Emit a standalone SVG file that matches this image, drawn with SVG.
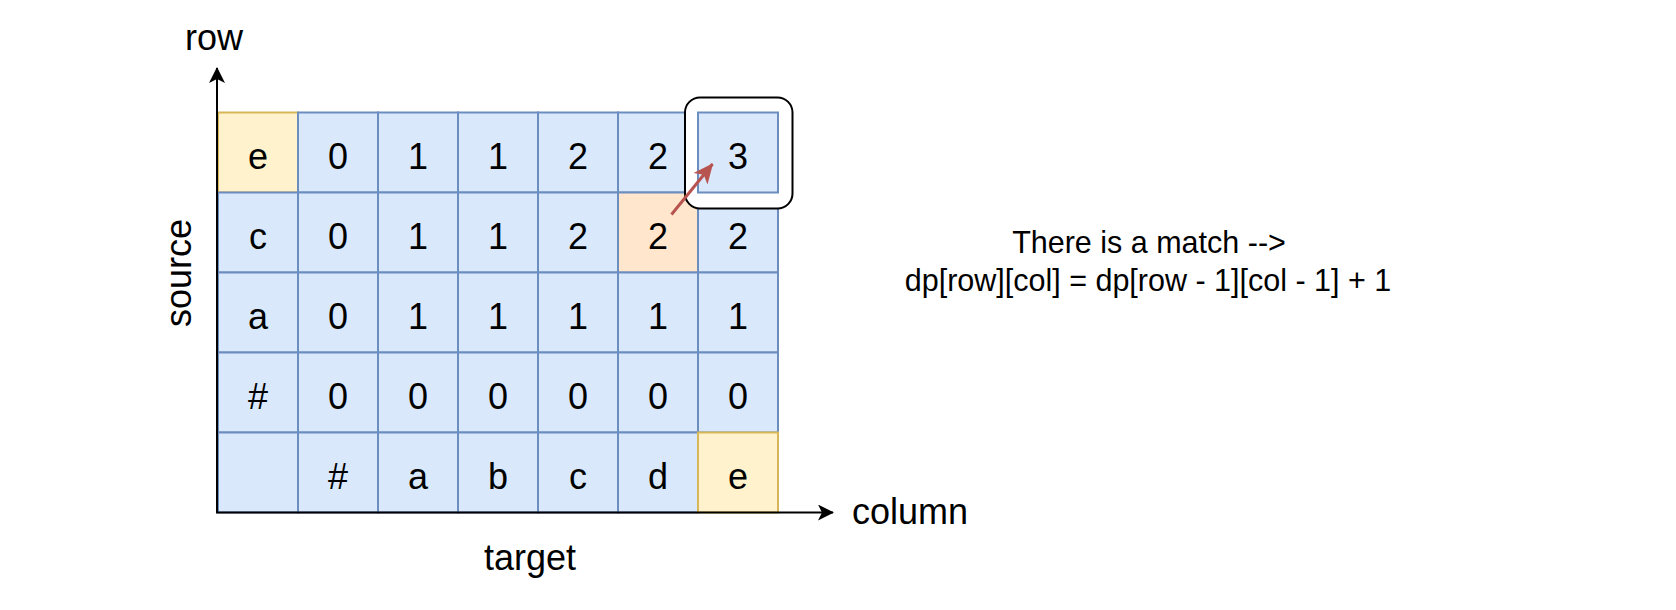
<svg xmlns="http://www.w3.org/2000/svg" width="1676" height="610" viewBox="0 0 1676 610">
  <style>
    .cell { fill: #dae8fc; stroke: #6c8ebf; stroke-width: 2; }
    .hl { fill: #fff2cc; stroke: #d6b656; stroke-width: 2; }
    .src { fill: #ffe6cc; stroke: #6c8ebf; stroke-width: 2; }
    .t { font-family: "Liberation Sans", Arial, sans-serif; font-size: 36px; fill: #000; text-anchor: middle; }
    .note { font-family: "Liberation Sans", Arial, sans-serif; font-size: 30.5px; fill: #000; text-anchor: middle; }
    .axis { stroke: #000; stroke-width: 2; fill: none; }
  </style>
  <defs>
    <marker id="blackHead" viewBox="0 0 10 10" refX="9" refY="5" markerWidth="9" markerHeight="9" markerUnits="userSpaceOnUse" orient="auto">
      <path d="M0,0 L10,5 L0,10 L3,5 Z" fill="#000"/>
    </marker>
    <marker id="axisHead" viewBox="0 0 16 16" refX="15" refY="8" markerWidth="16" markerHeight="16" markerUnits="userSpaceOnUse" orient="auto">
      <path d="M0,0 L16,8 L0,16 L4,8 Z" fill="#000"/>
    </marker>
    <marker id="redHead" viewBox="0 0 20 20" refX="19" refY="10" markerWidth="20" markerHeight="20" markerUnits="userSpaceOnUse" orient="auto">
      <path d="M0,1 L20,10 L0,19 L5,10 Z" fill="#b85450"/>
    </marker>
  </defs>

  <!-- row 0: e | 0 1 1 2 2 3 -->
  <g id="r0c0"><rect class="hl" x="218" y="112.5" width="80" height="80"/><text class="t" x="258" y="168.5">e</text></g>
  <g id="r0c1"><rect class="cell" x="298" y="112.5" width="80" height="80"/><text class="t" x="338" y="168.5">0</text></g>
  <g id="r0c2"><rect class="cell" x="378" y="112.5" width="80" height="80"/><text class="t" x="418" y="168.5">1</text></g>
  <g id="r0c3"><rect class="cell" x="458" y="112.5" width="80" height="80"/><text class="t" x="498" y="168.5">1</text></g>
  <g id="r0c4"><rect class="cell" x="538" y="112.5" width="80" height="80"/><text class="t" x="578" y="168.5">2</text></g>
  <g id="r0c5"><rect class="cell" x="618" y="112.5" width="80" height="80"/><text class="t" x="658" y="168.5">2</text></g>

  <!-- row 1: c | 0 1 1 2 2 2 -->
  <g id="r1c0"><rect class="cell" x="218" y="192.5" width="80" height="80"/><text class="t" x="258" y="248.5">c</text></g>
  <g id="r1c1"><rect class="cell" x="298" y="192.5" width="80" height="80"/><text class="t" x="338" y="248.5">0</text></g>
  <g id="r1c2"><rect class="cell" x="378" y="192.5" width="80" height="80"/><text class="t" x="418" y="248.5">1</text></g>
  <g id="r1c3"><rect class="cell" x="458" y="192.5" width="80" height="80"/><text class="t" x="498" y="248.5">1</text></g>
  <g id="r1c4"><rect class="cell" x="538" y="192.5" width="80" height="80"/><text class="t" x="578" y="248.5">2</text></g>
  <g id="r1c5"><rect class="src" x="618" y="192.5" width="80" height="80"/><text class="t" x="658" y="248.5">2</text></g>
  <g id="r1c6"><rect class="cell" x="698" y="192.5" width="80" height="80"/><text class="t" x="738" y="248.5">2</text></g>

  <!-- row 2: a | 0 1 1 1 1 1 -->
  <g id="r2c0"><rect class="cell" x="218" y="272.5" width="80" height="80"/><text class="t" x="258" y="328.5">a</text></g>
  <g id="r2c1"><rect class="cell" x="298" y="272.5" width="80" height="80"/><text class="t" x="338" y="328.5">0</text></g>
  <g id="r2c2"><rect class="cell" x="378" y="272.5" width="80" height="80"/><text class="t" x="418" y="328.5">1</text></g>
  <g id="r2c3"><rect class="cell" x="458" y="272.5" width="80" height="80"/><text class="t" x="498" y="328.5">1</text></g>
  <g id="r2c4"><rect class="cell" x="538" y="272.5" width="80" height="80"/><text class="t" x="578" y="328.5">1</text></g>
  <g id="r2c5"><rect class="cell" x="618" y="272.5" width="80" height="80"/><text class="t" x="658" y="328.5">1</text></g>
  <g id="r2c6"><rect class="cell" x="698" y="272.5" width="80" height="80"/><text class="t" x="738" y="328.5">1</text></g>

  <!-- row 3: # | 0 0 0 0 0 0 -->
  <g id="r3c0"><rect class="cell" x="218" y="352.5" width="80" height="80"/><text class="t" x="258" y="408.5">#</text></g>
  <g id="r3c1"><rect class="cell" x="298" y="352.5" width="80" height="80"/><text class="t" x="338" y="408.5">0</text></g>
  <g id="r3c2"><rect class="cell" x="378" y="352.5" width="80" height="80"/><text class="t" x="418" y="408.5">0</text></g>
  <g id="r3c3"><rect class="cell" x="458" y="352.5" width="80" height="80"/><text class="t" x="498" y="408.5">0</text></g>
  <g id="r3c4"><rect class="cell" x="538" y="352.5" width="80" height="80"/><text class="t" x="578" y="408.5">0</text></g>
  <g id="r3c5"><rect class="cell" x="618" y="352.5" width="80" height="80"/><text class="t" x="658" y="408.5">0</text></g>
  <g id="r3c6"><rect class="cell" x="698" y="352.5" width="80" height="80"/><text class="t" x="738" y="408.5">0</text></g>

  <!-- row 4: target characters -->
  <g id="r4c0"><rect class="cell" x="218" y="432.5" width="80" height="80"/></g>
  <g id="r4c1"><rect class="cell" x="298" y="432.5" width="80" height="80"/><text class="t" x="338" y="488.5">#</text></g>
  <g id="r4c2"><rect class="cell" x="378" y="432.5" width="80" height="80"/><text class="t" x="418" y="488.5">a</text></g>
  <g id="r4c3"><rect class="cell" x="458" y="432.5" width="80" height="80"/><text class="t" x="498" y="488.5">b</text></g>
  <g id="r4c4"><rect class="cell" x="538" y="432.5" width="80" height="80"/><text class="t" x="578" y="488.5">c</text></g>
  <g id="r4c5"><rect class="cell" x="618" y="432.5" width="80" height="80"/><text class="t" x="658" y="488.5">d</text></g>
  <g id="r4c6"><rect class="hl" x="698" y="432.5" width="80" height="80"/><text class="t" x="738" y="488.5">e</text></g>

  <!-- highlight frame around the answer cell -->
  <g id="answerFrame">
    <rect x="685" y="97.5" width="107.5" height="111" rx="15" ry="15" fill="#fff" stroke="#000" stroke-width="2"/>
  </g>
  <g id="r0c6"><rect class="cell" x="698" y="112.5" width="80" height="80"/><text class="t" x="738" y="168.5">3</text></g>

  <!-- axis labels -->
  <g id="rowLabel"><text class="t" x="214" y="50">row</text></g>
  <g id="sourceLabel"><text class="t" x="0" y="0" transform="translate(191,273) rotate(-90)">source</text></g>
  <g id="targetLabel"><text class="t" x="530" y="570">target</text></g>
  <g id="columnLabel"><text class="t" x="910" y="524">column</text></g>

  <!-- explanation -->
  <g id="note">
    <text class="note" x="1149" y="253">There is a match --&gt;</text>
    <text class="note" x="1148" y="291">dp[row][col] = dp[row - 1][col - 1] + 1</text>
  </g>

  <g id="connectors">
    <line class="axis" x1="217" y1="513" x2="217" y2="68" marker-end="url(#axisHead)"/>
    <line class="axis" x1="216" y1="512.5" x2="833" y2="512.5" marker-end="url(#axisHead)"/>
    <line x1="671.5" y1="214.5" x2="712.5" y2="164" stroke="#b85450" stroke-width="3" marker-end="url(#redHead)"/>
  </g>
</svg>
